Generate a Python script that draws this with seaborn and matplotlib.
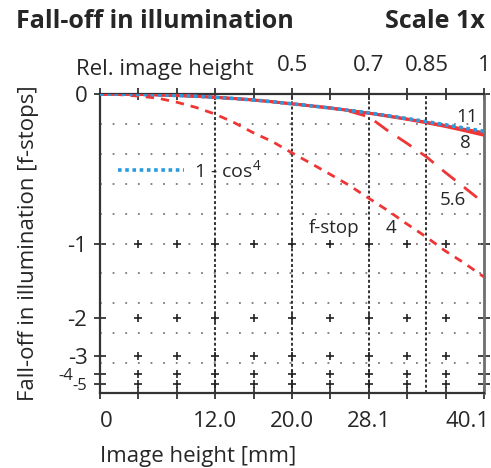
import numpy as np
import pandas as pd
import matplotlib
matplotlib.use("Agg")
import matplotlib.pyplot as plt
import seaborn as sns
from matplotlib.ticker import FixedLocator, NullLocator
from matplotlib.transforms import ScaledTranslation

# ---------------- data ----------------
image_height_mm = [0, 2, 4, 6, 8, 10, 12, 14, 16, 18, 20, 22, 24, 26, 28.1, 30, 32, 34.1, 36, 38, 40.1]
cos4_stops = [0, -0.0005, -0.002, -0.004, -0.007, -0.011, -0.016, -0.022, -0.029, -0.038, -0.048,
              -0.058, -0.069, -0.081, -0.094, -0.108, -0.123, -0.140, -0.156, -0.174, -0.192]
f11_stops = [0, -0.0005, -0.002, -0.004, -0.007, -0.011, -0.016, -0.022, -0.029, -0.038, -0.048,
             -0.058, -0.069, -0.081, -0.095, -0.109, -0.125, -0.143, -0.160, -0.180, -0.199]
f8_stops = [0, -0.0005, -0.002, -0.004, -0.007, -0.011, -0.016, -0.022, -0.029, -0.038, -0.048,
            -0.058, -0.069, -0.082, -0.096, -0.111, -0.127, -0.146, -0.165, -0.188, -0.214]
f56_stops = [0, -0.0005, -0.002, -0.004, -0.007, -0.011, -0.016, -0.022, -0.029, -0.038, -0.048,
             -0.058, -0.069, -0.085, -0.115, -0.187, -0.258, -0.341, -0.436, -0.538, -0.655]
f4_stops = [0, -0.003, -0.010, -0.020, -0.040, -0.066, -0.100, -0.145, -0.200, -0.250, -0.315,
            -0.380, -0.450, -0.525, -0.620, -0.710, -0.820, -0.940, -1.070, -1.200, -1.366]

x_tick_values = [0, 12.0, 20.0, 28.1, 40.1]
x_tick_labels = ["0", "12.0", "20.0", "28.1", "40.1"]
rel_ticks = [0.5, 0.7, 0.85, 1]
rel_tick_labels = ["0.5", "0.7", "0.85", "1"]
rel_grid = [0.3, 0.5, 0.7, 0.85]
y_stop_ticks = [0, -1, -2, -3, -4, -5]
y_tick_labels = ["0", "-1", "-2", "-3", "-4", "-5"]
illum_grid = [0.1, 0.2, 0.3, 0.4, 0.5, 0.6, 0.7, 0.8, 0.9]
max_height = 40.1

series = {"f/4": f4_stops, "f/5.6": f56_stops, "f/8": f8_stops, "f/11": f11_stops, "1 - cos4": cos4_stops}
df = pd.concat([pd.DataFrame({"mm": image_height_mm, "stops": v, "series": k}) for k, v in series.items()],
               ignore_index=True)

# ---------------- style ----------------
sns.set_style("white")
plt.rcParams["font.family"] = ["Open Sans", "DejaVu Sans"]
plt.rcParams["mathtext.default"] = "regular"
TXT = "#262626"
RED = "#ef3535"
BLUE = "#2a9be0"
FS = 16

fig = plt.figure(figsize=(4.91, 4.68), dpi=100)
ax = fig.add_axes([100 / 491, 1 - 393 / 468, 384 / 491, 299 / 468])

fwd = lambda y: np.power(2.0, y)
inv = lambda t: np.log2(np.maximum(t, 1e-300))
ax.set_yscale("function", functions=(fwd, inv))
ax.set_xlim(0, max_height)
ax.set_ylim(-14, 0)

# grid
for t in illum_grid:
    ax.axhline(np.log2(t), color="#7a7a7a", lw=1.3, ls=(0, (1, 6)), zorder=1)
for r in rel_grid:
    ax.axvline(r * max_height, color="#333333", lw=1.4, ls=(0, (1.5, 1.2)), zorder=1)
minor_x = np.linspace(0, max_height, 11)
gx, gy = np.meshgrid(minor_x[1:-1], y_stop_ticks[1:])
ax.scatter(gx.ravel(), gy.ravel(), marker="+", s=40, linewidths=1.2, color="#222222", zorder=2)

# curves
styles = {
    "f/4": dict(color=RED, lw=2.0, linestyle=(0, (3, 2.5))),
    "f/5.6": dict(color=RED, lw=2.0, linestyle=(0, (6, 4))),
    "f/8": dict(color=RED, lw=2.2, linestyle="-"),
    "f/11": dict(color=RED, lw=2.0, linestyle="-"),
    "1 - cos4": dict(color=BLUE, lw=2.6, linestyle=(0, (1, 1))),
}
for name in series:
    sns.lineplot(data=df[df["series"] == name], x="mm", y="stops", ax=ax, legend=False,
                 zorder=4, **styles[name])
cos_line = ax.lines[-1]
ax.legend([cos_line], ["1 - cos$^4$"], loc="center left", bbox_to_anchor=(0.047, 0.746),
          frameon=False, borderpad=0, borderaxespad=0, handlelength=3.4, handletextpad=0.5,
          prop={"size": 14})
for t in ax.get_legend().get_texts():
    t.set_color(TXT)

# curve labels
lab = dict(fontsize=13.5, color=TXT, ha="center", va="center")
ax.text(38.3, np.log2(0.923), "11", **lab)
ax.text(38.2, np.log2(0.836), "8", **lab)
ax.text(36.8, np.log2(0.645), "5.6", **lab)
ax.text(24.4, np.log2(0.552), "f-stop", **lab)
ax.text(30.4, np.log2(0.552), "4", **lab)

# axes / ticks
for s in ["left", "bottom", "top"]:
    ax.spines[s].set_color("#333333")
    ax.spines[s].set_linewidth(1.6)
ax.spines["right"].set_color("#6e6e6e")
ax.spines["right"].set_linewidth(2.0)

ax.set_xticks(x_tick_values, x_tick_labels)
ax.xaxis.set_minor_locator(FixedLocator(minor_x))
ax.xaxis.remove_overlapping_locs = False
ax.tick_params(axis="x", which="major", length=0, pad=13, labelsize=FS, labelcolor=TXT, bottom=True)
ax.tick_params(axis="x", which="minor", direction="inout", length=8, width=1.2, color="#222222",
               top=True, bottom=True)
ax.set_yticks(y_stop_ticks, y_tick_labels)
ax.yaxis.set_minor_locator(NullLocator())
ax.tick_params(axis="y", which="major", direction="inout", length=8, width=1.2, color="#222222",
               left=True, right=True, pad=5, labelsize=FS, labelcolor=TXT)

xl = ax.get_xticklabels()
xl[0].set_ha("left")
xl[-1].set_transform(xl[-1].get_transform() + ScaledTranslation(-0.16, 0, fig.dpi_scale_trans))
yl = ax.get_yticklabels()
yl[4].set_fontsize(12)
yl[5].set_fontsize(12)
yl[4].set_transform(yl[4].get_transform() + ScaledTranslation(-0.145, 0.0, fig.dpi_scale_trans))

sec = ax.secondary_xaxis("top", functions=(lambda x: x / max_height, lambda r: r * max_height))
sec.set_xticks(rel_ticks, rel_tick_labels)
sec.tick_params(length=0, pad=13, labelsize=FS, labelcolor=TXT)
sec.spines["top"].set_visible(False)

ax.set_xlabel("Image height [mm]", loc="left", fontsize=FS, color=TXT, labelpad=10)
ax.set_ylabel("Fall-off in illumination [f-stops]", fontsize=FS, color=TXT, labelpad=14)

fig.text(76 / 491, 1 - 75 / 468, "Rel. image height", fontsize=FS, color=TXT, va="baseline", ha="left")
fig.text(16 / 491, 1 - 28 / 468, "Fall-off in illumination", fontsize=18, fontweight="bold",
         color=TXT, va="baseline", ha="left")
fig.text(485 / 491, 1 - 28 / 468, "Scale 1x", fontsize=18, fontweight="bold",
         color=TXT, va="baseline", ha="right")

fig.savefig("out.png", dpi=100)
